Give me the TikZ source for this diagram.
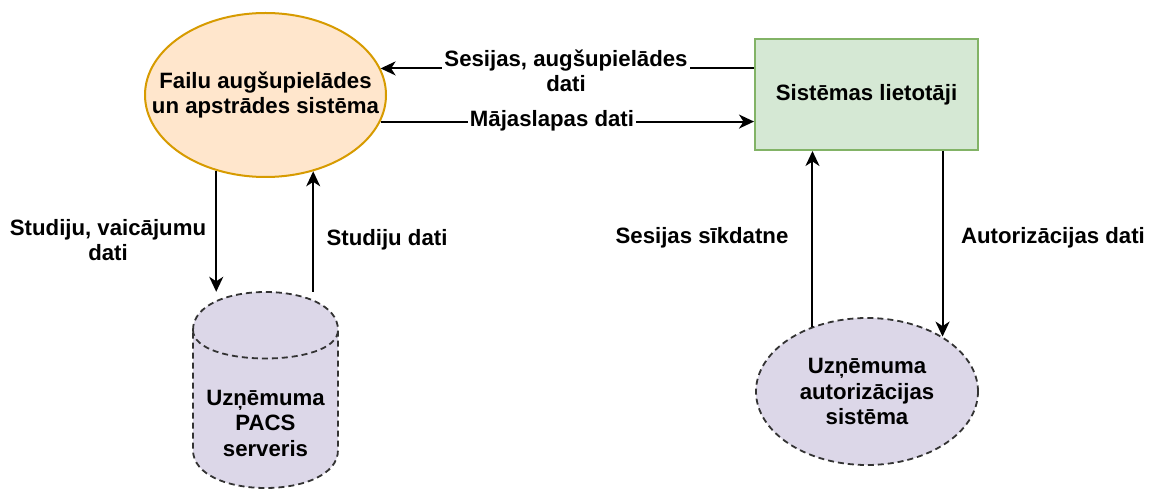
\documentclass[tikz,border=0pt]{standalone}
\usepackage{fontspec}
\setmainfont{Liberation Sans}
\usetikzlibrary{arrows.meta,shapes.geometric}
\definecolor{orfill}{HTML}{FFE6CC}
\definecolor{ordraw}{HTML}{D79B00}
\definecolor{grfill}{HTML}{D5E8D4}
\definecolor{grdraw}{HTML}{82B366}
\definecolor{lvfill}{HTML}{DCD7E8}
\definecolor{dkline}{HTML}{333333}
\tikzset{
  txt/.style={font=\fontsize{22.2}{25.5}\selectfont\bfseries, align=center, text=black, inner sep=1pt},
  elbl/.style={txt, fill=white, inner sep=2pt},
  arr/.style={-{Stealth[length=15pt,width=14pt,inset=4.5pt]}, line width=2pt, draw=black},
  procE/.style={ellipse, draw=ordraw, fill=orfill, line width=2pt, inner sep=0pt},
  userbox/.style={rectangle, draw=grdraw, fill=grfill, line width=2pt, inner sep=0pt},
  extE/.style={ellipse, draw=dkline, fill=lvfill, line width=1.8pt, dash pattern=on 6pt off 4pt, inner sep=0pt},
  cylfill/.style={fill=lvfill, draw=dkline, line width=1.8pt, dash pattern=on 6pt off 4pt},
}
\begin{document}
\begin{tikzpicture}[x=1pt,y=-1pt]
\useasboundingbox[fill=white] (0,0) rectangle (1149,489);

% nodes
\node[procE, minimum width=241pt, minimum height=164pt,
      label={[txt]center:Failu augšupielādes\\un apstrādes sistēma}] (fail) at (265.5,95) {};
\node[userbox, minimum width=223pt, minimum height=111pt,
      label={[txt]center:Sistēmas lietotāji}] (users) at (866.5,94.5) {};
\node[extE, minimum width=222pt, minimum height=147pt,
      label={[txt]center:Uzņēmuma\\autorizācijas\\sistēma}] (auth) at (867,391.5) {};

% cylinder
\node[inner sep=0pt, minimum width=145pt, minimum height=196pt] (pacs) at (265.5,390) {};
\path[cylfill] (193,330) .. controls (193,279.33) and (338,279.33) .. (338,330)
   -- (338,450) .. controls (338,500.67) and (193,500.67) .. (193,450) -- cycle;
\draw[draw=dkline, line width=1.8pt, dash pattern=on 6pt off 4pt]
   (193,330) .. controls (193,368) and (338,368) .. (338,330);
\node[txt] (pacstxt) at (265.5,423) {Uzņēmuma\\PACS\\serveris};

% connectors
\draw[arr] (fail.13.4 -| users.west) -- (fail.13.4);
\node[elbl] (lsesijas) at (566,71) {Sesijas, augšupielādes\\dati};
\draw[arr] (fail.-13.4) -- (fail.-13.4 -| users.west);
\node[elbl] (lmajas) at (552,121) {Mājaslapas dati};

\draw[arr] (fail.237.8) -- (fail.237.8 |- pacs.north);
\draw[arr] (fail.302.2 |- pacs.north) -- (fail.302.2);
\node[txt] (lstud1) at (108,240) {Studiju, vaicājumu\\dati};
\node[txt] (lstud2) at (387,240) {Studiju dati};

\draw[arr] (auth.130.8) -- (auth.130.8 |- users.south);
\draw[arr] (auth.36.5 |- users.south) -- (auth.36.5);
\node[txt] (lsess) at (702,238) {Sesijas sīkdatne};
\node[txt] (lauth) at (1053,238) {Autorizācijas dati};
\end{tikzpicture}
\end{document}
